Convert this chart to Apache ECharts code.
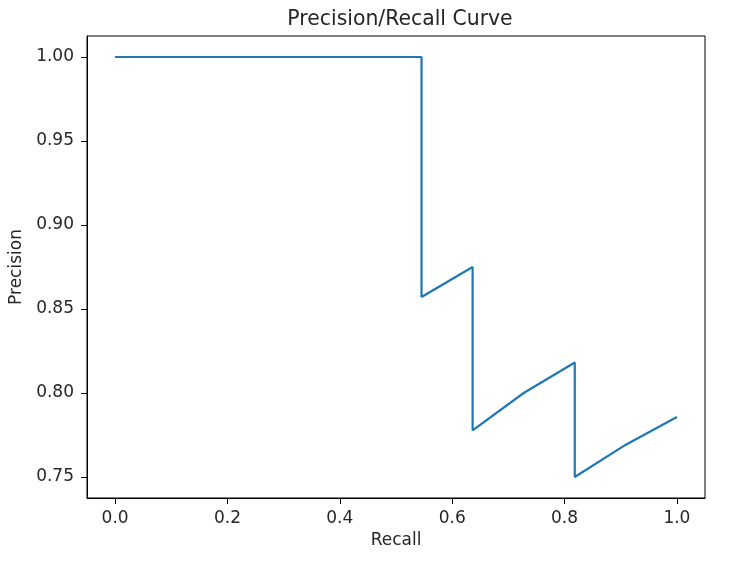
<!DOCTYPE html>
<html>
<head>
<meta charset="utf-8">
<script src="https://cdn.jsdelivr.net/npm/echarts@6/dist/echarts.min.js"></script>
<style>html,body{margin:0;padding:0;background:#fff}#c{width:732px;height:562px}</style>
</head>
<body>
<div id="c"></div>
<script>
const recall = [0, 1/11, 2/11, 3/11, 4/11, 5/11, 6/11, 6/11, 7/11, 7/11, 8/11, 9/11, 9/11, 10/11, 1];
const precision = [1, 1, 1, 1, 1, 1, 1, 6/7, 7/8, 7/9, 8/10, 9/11, 9/12, 10/13, 11/14];
const xTicks = [0, 0.2, 0.4, 0.6, 0.8, 1.0];
const yTicks = [0.75, 0.80, 0.85, 0.90, 0.95, 1.00];

const data = recall.map((r, i) => [r, precision[i]]);
const chart = echarts.init(document.getElementById('c'));
const font = 'DejaVu Sans';
const ink = '#262626';
chart.setOption({
  animation: false,
  title: {
    text: 'Precision/Recall Curve',
    left: 395, top: 5, textAlign: 'center',
    textStyle: {fontFamily: font, fontSize: 20.4, fontWeight: 'normal', color: ink}
  },
  grid: {left: 86, right: 27, top: 36, bottom: 64, show: true, borderColor: '#000', borderWidth: 1, backgroundColor: 'transparent'},
  xAxis: {
    type: 'value', min: -0.05, max: 1.05,
    name: 'Recall', nameLocation: 'middle', nameGap: 34,
    nameTextStyle: {fontFamily: font, fontSize: 17, color: ink},
    axisLine: {show: true, onZero: false, lineStyle: {color: '#000', width: 1}},
    splitLine: {show: false},
    axisTick: {show: true, length: 6, customValues: xTicks, lineStyle: {color: '#000'}},
    axisLabel: {customValues: xTicks, fontFamily: font, fontSize: 17, color: ink, margin: 12,
      formatter: v => v.toFixed(1)}
  },
  yAxis: {
    type: 'value', min: 0.7375, max: 1.0125,
    name: 'Precision', nameLocation: 'middle', nameGap: 62, nameRotate: 90,
    nameTextStyle: {fontFamily: font, fontSize: 17, color: ink},
    axisLine: {show: true, onZero: false, lineStyle: {color: '#000', width: 1}},
    splitLine: {show: false},
    axisTick: {show: true, length: 6, customValues: yTicks, lineStyle: {color: '#000'}},
    axisLabel: {customValues: yTicks, fontFamily: font, fontSize: 17, color: ink, margin: 13,
      formatter: v => v.toFixed(2)}
  },
  series: [{
    type: 'line', data: data, showSymbol: false, symbol: 'none',
    lineStyle: {color: '#1f77b4', width: 2.2}
  }]
});
</script>
</body>
</html>
